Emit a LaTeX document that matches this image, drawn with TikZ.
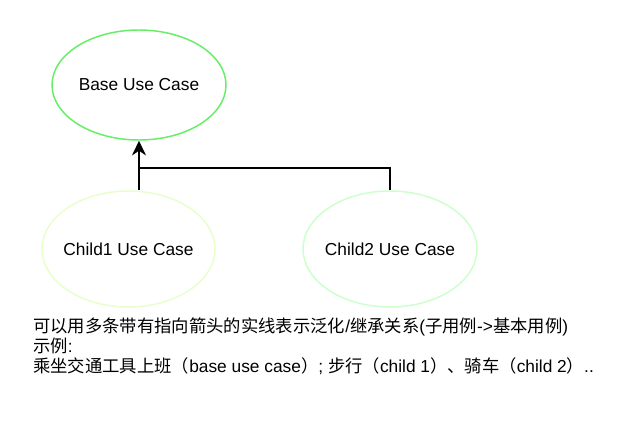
\documentclass[tikz,border=0pt]{standalone}
\usepackage{fontspec}
\setmainfont{Liberation Sans}
\newfontfamily\cjk{Noto Sans CJK SC}
\newcommand\zh[1]{{\cjk #1}}
\usetikzlibrary{shapes.geometric,arrows.meta}
\definecolor{basegreen}{HTML}{66EE66}
\definecolor{childone}{HTML}{E6FFCC}
\definecolor{childtwo}{HTML}{CCFFCC}
\tikzset{
  usecase/.style={ellipse, draw, line width=1.1pt, inner sep=0pt, font=\fontsize{13pt}{15pt}\selectfont, text=black},
  genline/.style={line width=1.4pt, draw=black},
  note/.style={anchor=base west, inner sep=0pt, font=\fontsize{13pt}{15pt}\selectfont},
}
\begin{document}
\begin{tikzpicture}[x=0.75pt, y=-0.75pt]
\useasboundingbox[fill=white] (0,0) rectangle (629,431);
\node[usecase, draw=basegreen, minimum width=130.5pt, minimum height=82.5pt] (base) at (139,85) {\makebox[0pt]{Base Use Case}};
\node[usecase, draw=childone, minimum width=129.75pt, minimum height=87pt] (c1) at (128.5,249) {\makebox[0pt]{Child1 Use Case}};
\node[usecase, draw=childtwo, minimum width=130.5pt, minimum height=87pt] (c2) at (390,249) {\makebox[0pt]{Child2 Use Case}};
\coordinate (c1top) at (base.south |- c1.north);
\coordinate (join) at (139,168);
\draw[genline, -{Stealth[length=11pt, width=10.5pt, inset=3.5pt]}] (c1top) -- (base.south);
\draw[genline] (c2.north) |- (join);
\node[note] (t1) at (33,333) {\zh{可以用多条带有指向箭头的实线表示泛化}/\zh{继承关系}(\zh{子用例}->\zh{基本用例})};
\node[note] (t2) at (33,353) {\zh{示例}:};
\node[note] (t3) at (33,373) {\zh{乘坐交通工具上班（}base use case\zh{）}; \zh{步行（}child 1\zh{）、骑车（}child 2\zh{）}..};
\end{tikzpicture}
\end{document}
